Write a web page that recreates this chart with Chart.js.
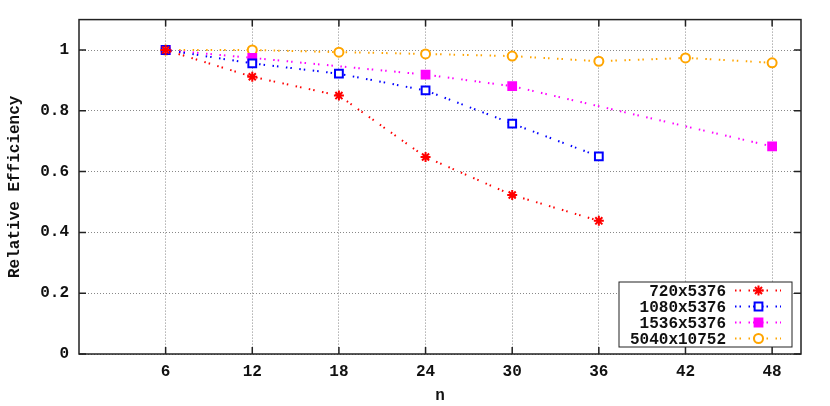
<!DOCTYPE html>
<html>
<head>
<meta charset="utf-8">
<script src="https://cdn.jsdelivr.net/npm/chart.js@4.4.1/dist/chart.umd.min.js"></script>
<style>
  html, body { margin: 0; padding: 0; background: #fff; }
  canvas { display: block; }
</style>
</head>
<body>
<canvas id="chart" width="830" height="406"></canvas>
<script>
// Data
const nValues = [6, 12, 18, 24, 30, 36, 42, 48];
const eff720 = [1, 0.912, 0.850, 0.648, 0.523, 0.438, null, null];
const eff1080 = [1, 0.956, 0.922, 0.867, 0.758, 0.650, null, null];
const eff1536 = [1, 0.974, null, 0.919, 0.881, null, null, 0.683];
const eff5040 = [1, 1.0, 0.993, 0.987, 0.980, 0.963, 0.974, 0.958];
const seriesLabels = ['720x5376', '1080x5376', '1536x5376', '5040x10752'];
const yTicks = [0, 0.2, 0.4, 0.6, 0.8, 1];
const yTickLabels = ['0', '0.2', '0.4', '0.6', '0.8', '1'];

const FONT = '"Courier New", "Liberation Mono", monospace';

// Series styles (gnuplot-like)
const styles = [
  { color: '#ff0000', pointStyle: 'star', radius: 5, fill: '#ff0000' },
  { color: '#0000ff', pointStyle: 'rect', radius: 5.5, fill: '#ffffff' },
  { color: '#ff00ff', pointStyle: 'rect', radius: 5.5, fill: '#ff00ff' },
  { color: '#ffa500', pointStyle: 'circle', radius: 4.5, fill: '#ffffff' }
];
const lineDash = [1.5, 3, 1.5, 7.5];

const toPoints = arr => nValues
  .map((n, i) => ({ x: n, y: arr[i] }))
  .filter(p => p.y !== null);

const datasets = [eff720, eff1080, eff1536, eff5040].map((arr, i) => ({
  label: seriesLabels[i],
  data: toPoints(arr),
  borderColor: styles[i].color,
  backgroundColor: styles[i].fill,
  borderWidth: 2,
  borderDash: lineDash,
  pointStyle: styles[i].pointStyle,
  pointRadius: styles[i].radius,
  pointBorderWidth: 2,
  pointBorderColor: styles[i].color,
  pointBackgroundColor: styles[i].fill,
  spanGaps: true,
  tension: 0,
  fill: false
}));

// Plot frame with inward ticks on all sides
const framePlugin = {
  id: 'frame',
  afterDraw(chart) {
    const ctx = chart.ctx;
    const a = chart.chartArea;
    const xs = chart.scales.x, ys = chart.scales.y;
    const tl = 7;
    ctx.save();
    ctx.strokeStyle = '#222';
    ctx.lineWidth = 1.5;
    ctx.setLineDash([]);
    ctx.strokeRect(a.left, a.top, a.right - a.left, a.bottom - a.top);
    ctx.beginPath();
    nValues.forEach(v => {
      const px = xs.getPixelForValue(v);
      ctx.moveTo(px, a.bottom); ctx.lineTo(px, a.bottom - tl);
      ctx.moveTo(px, a.top); ctx.lineTo(px, a.top + tl);
    });
    yTicks.forEach(v => {
      const py = ys.getPixelForValue(v);
      ctx.moveTo(a.left, py); ctx.lineTo(a.left + tl, py);
      ctx.moveTo(a.right, py); ctx.lineTo(a.right - tl, py);
    });
    ctx.stroke();
    ctx.restore();
  }
};

// Boxed legend in the lower right, text right-aligned, sample to the right
const boxLegend = {
  id: 'boxLegend',
  afterDraw(chart) {
    const ctx = chart.ctx;
    const a = chart.chartArea;
    const w = 173, h = 65;
    const x0 = a.right - 9 - w, y0 = a.bottom - 7 - h;
    ctx.save();
    ctx.fillStyle = '#fff';
    ctx.fillRect(x0, y0, w, h);
    ctx.strokeStyle = '#222';
    ctx.lineWidth = 1;
    ctx.setLineDash([]);
    ctx.strokeRect(x0, y0, w, h);
    chart.data.datasets.forEach((ds, i) => {
      const y = y0 + 8.5 + i * 16;
      ctx.fillStyle = '#111';
      ctx.font = 'bold 16px ' + FONT;
      ctx.textAlign = 'right';
      ctx.textBaseline = 'middle';
      ctx.fillText(ds.label, x0 + 107, y + 1);
      ctx.strokeStyle = ds.borderColor;
      ctx.lineWidth = 2;
      ctx.setLineDash(lineDash);
      ctx.beginPath();
      ctx.moveTo(x0 + 116, y);
      ctx.lineTo(x0 + 162, y);
      ctx.stroke();
      ctx.setLineDash([]);
      ctx.fillStyle = ds.pointBackgroundColor;
      ctx.strokeStyle = ds.pointBorderColor;
      ctx.lineWidth = ds.pointBorderWidth;
      if (Chart.helpers && Chart.helpers.drawPoint) {
        Chart.helpers.drawPoint(ctx, {
          pointStyle: ds.pointStyle,
          radius: ds.pointRadius,
          borderWidth: ds.pointBorderWidth,
          rotation: 0
        }, x0 + 139.5, y);
      }
    });
    ctx.restore();
  }
};

new Chart(document.getElementById('chart'), {
  type: 'line',
  data: { datasets },
  plugins: [framePlugin, boxLegend],
  options: {
    responsive: false,
    animation: false,
    layout: { padding: { top: 18, right: 29, left: 0, bottom: 0 } },
    plugins: {
      legend: { display: false },
      tooltip: { enabled: false }
    },
    scales: {
      x: {
        type: 'linear',
        min: 0,
        max: 50,
        afterBuildTicks: s => { s.ticks = nValues.map(v => ({ value: v })); },
        afterFit: s => { s.height = 52; },
        grid: { color: '#888', lineWidth: 1, drawTicks: false },
        border: { display: false, dash: [1, 2] },
        ticks: {
          padding: 8,
          color: '#111',
          font: { family: FONT, size: 16, weight: 'bold' },
          maxRotation: 0,
          callback: v => String(v)
        },
        title: {
          display: true,
          text: 'n',
          color: '#111',
          padding: { top: 0, bottom: 0 },
          font: { family: FONT, size: 16, weight: 'bold' }
        }
      },
      y: {
        min: 0,
        max: 1.1,
        afterBuildTicks: s => { s.ticks = yTicks.map(v => ({ value: v })); },
        afterFit: s => { s.width = 79; },
        grid: { color: '#888', lineWidth: 1, drawTicks: false },
        border: { display: false, dash: [1, 2] },
        ticks: {
          padding: 10,
          color: '#111',
          font: { family: FONT, size: 16, weight: 'bold' },
          callback: (v) => {
            const i = yTicks.findIndex(t => Math.abs(t - v) < 1e-9);
            return i >= 0 ? yTickLabels[i] : '';
          }
        },
        title: {
          display: true,
          text: 'Relative Efficiency',
          color: '#111',
          padding: { top: 5, bottom: 4 },
          font: { family: FONT, size: 16, weight: 'bold' }
        }
      }
    }
  }
});
</script>
</body>
</html>
